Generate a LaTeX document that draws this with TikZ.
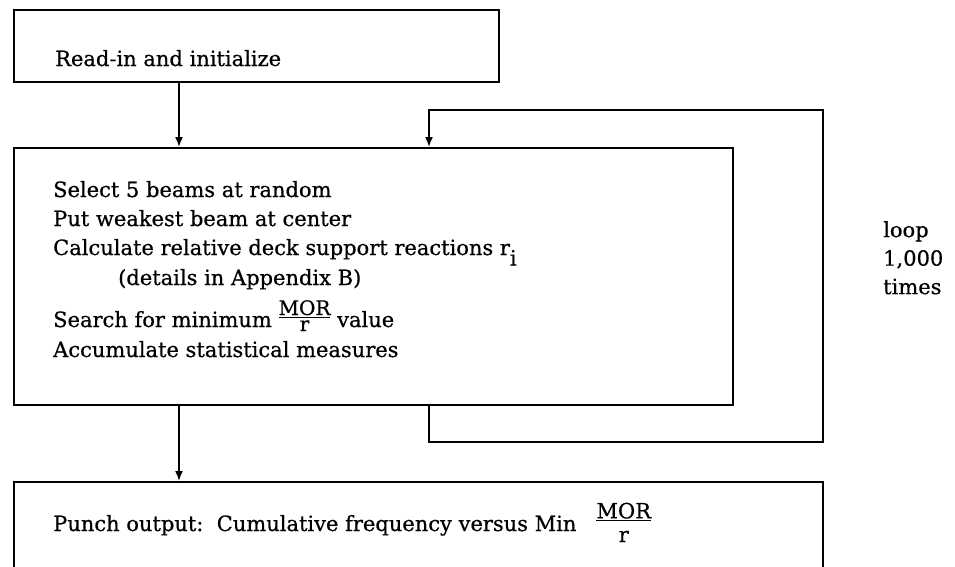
\documentclass[tikz,border=0pt]{standalone}
\usepackage{fontspec}
\setmainfont{DejaVu Serif}[FakeBold=0.6]
\usetikzlibrary{arrows.meta}
\newcommand\fracA[2]{\raisebox{-4pt}{\fontsize{20}{20}\selectfont\renewcommand\arraystretch{0.9}\setlength\arrayrulewidth{1pt}\begin{tabular}[b]{@{}c@{}}#1\\[-3pt]\hline #2\end{tabular}}}
\newcommand\fracB[2]{\raisebox{-11pt}{\fontsize{21}{21}\selectfont\renewcommand\arraystretch{0.9}\setlength\arrayrulewidth{1pt}\begin{tabular}[b]{@{}c@{}}#1\\[-4pt]\hline \rule{0pt}{21pt}#2\end{tabular}}}
\begin{document}
\begin{tikzpicture}[x=1pt,y=-1pt,
  box/.style={draw, line width=1.7pt, rectangle, inner sep=0pt, anchor=north west},
  txt/.style={anchor=base west, inner sep=0pt, font=\fontsize{21}{28.5}\selectfont},
  arr/.style={line width=1.7pt, -{Latex[length=10pt,width=8pt]}},
  wire/.style={line width=1.7pt}]
\useasboundingbox (0,0) rectangle (955,566);
\clip (0,0) rectangle (955,566);
\fill[white] (0,0) rectangle (955,566);
% boxes
\node[box, minimum width=485pt, minimum height=72pt] (box1) at (13,9) {};
\node[box, minimum width=719pt, minimum height=257pt] (box2) at (13,147) {};
\node[box, minimum width=809pt, minimum height=110pt] (box3) at (13,481) {};
% texts
\node[txt] (t1) at (55,66) {Read-in and initialize};
\node[txt] (t2) at (53,197) {Select 5 beams at random};
\node[txt] (t3) at (53,226) {Put weakest beam at center};
\node[txt] (t4) at (53,255) {Calculate relative deck support reactions r\raisebox{-0.5em}{i}};
\node[txt] (t5) at (118,285) {(details in Appendix B)};
\node[txt] (t6) at (53,327) {Search for minimum \fracA{MOR}{r} value};
\node[txt] (t7) at (53,357) {Accumulate statistical measures};
\node[txt] (t8) at (53,531) {Punch output:\ \ Cumulative frequency versus Min\ \ \ \fracB{MOR}{r}};
\node[txt, align=left, anchor=north west] (loop) at (883,221) {loop\\1,000\\times};
% connectors
\coordinate (ax) at (179,0);
\coordinate (lb) at (429,442);
\coordinate (lr) at (823,110);
\coordinate (lt) at (429,110);
\draw[arr] (box1.south -| ax) -- (box2.north -| ax);
\draw[arr] (box2.south -| ax) -- (box3.north -| ax);
\draw[arr] (box2.south -| lb) -- (lb) -| (lr) -- (lt) -- (box2.north -| lt);
\end{tikzpicture}
\end{document}
